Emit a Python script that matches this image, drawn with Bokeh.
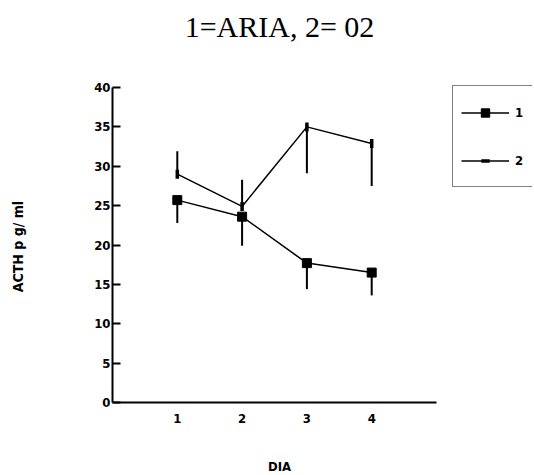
import numpy as np
from bokeh.plotting import figure
from bokeh.models import Legend, LegendItem, Range1d, FixedTicker, Label, ColumnDataSource
from bokeh.embed import file_html
from bokeh.resources import INLINE

# ---- data ----
days = [1, 2, 3, 4]
s1_mean = [25.7, 23.6, 17.7, 16.5]          # series 1 (ARIA)
s1_err_end = [22.8, 19.9, 14.4, 13.6]       # error bar far end, series 1
s2_mean = [29.0, 24.9, 35.0, 32.9]          # series 2 (O2)
s2_err_end = [31.9, 28.3, 29.1, 27.5]       # error bar far end, series 2
y_ticks = [0, 5, 10, 15, 20, 25, 30, 35, 40]
x_ticks = [1, 2, 3, 4]
title_text = "1=ARIA, 2= 02"
x_label = "DIA"
y_label = "ACTH p g/ ml"
series_labels = ["1", "2"]

src1 = ColumnDataSource(dict(x=days, y=s1_mean, e=s1_err_end))
src2 = ColumnDataSource(dict(x=days, y=s2_mean, e=s2_err_end,
                             ang=[np.pi / 2] * len(days)))

# the frame covers the whole canvas; the axes are pinned at 0 and bounded
W, H = 532, 474
X0, Y0 = 112, 402          # pixel position of the data origin
PX_X, PX_Y = 64.8, 7.875   # pixels per data unit
p = figure(frame_width=W, frame_height=H, output_backend="svg",
           toolbar_location=None,
           x_range=Range1d(-X0 / PX_X, (W - X0) / PX_X),
           y_range=Range1d(-(H - Y0) / PX_Y, Y0 / PX_Y),
           min_border=0)
p.title = None
p.outline_line_color = None
p.xgrid.visible = False
p.ygrid.visible = False
p.background_fill_color = "white"
p.border_fill_color = "white"

tick_font = "DejaVu Sans Condensed"
for ax in (p.xaxis[0], p.yaxis[0]):
    ax.fixed_location = 0
    ax.axis_line_width = 2
    ax.axis_line_color = "black"
    ax.major_label_text_font = tick_font
    ax.major_label_text_font_style = "bold"
    ax.major_label_text_font_size = "13px"
    ax.major_label_text_color = "black"
    ax.minor_tick_line_color = None

p.yaxis.bounds = (0, 40)
p.yaxis.ticker = FixedTicker(ticks=y_ticks)
p.yaxis.major_tick_in = 8
p.yaxis.major_tick_out = 0
p.yaxis.major_tick_line_width = 2
p.yaxis.major_label_standoff = 2

p.xaxis.bounds = (0, 5)
p.xaxis.ticker = FixedTicker(ticks=x_ticks)
p.xaxis.major_tick_in = 0
p.xaxis.major_tick_out = 0
p.xaxis.major_label_standoff = 11

label_font = dict(text_font=tick_font, text_font_style="bold", text_color="black",
                  text_align="center", text_baseline="middle")
p.add_layout(Label(x=2.577, y=-8.13, text=x_label, text_font_size="13px", **label_font))
p.add_layout(Label(x=-1.466, y=19.8, text=y_label, angle=np.pi / 2,
                   text_font_size="14px", **label_font))
p.add_layout(Label(x=2.577, y=47.75, text=title_text, text_align="center",
                   text_baseline="middle", text_font="Liberation Serif",
                   text_font_size="30px", text_color="black"))

# error bars
p.segment(x0="x", y0="y", x1="x", y1="e", source=src1, line_color="black", line_width=2)
p.segment(x0="x", y0="y", x1="x", y1="e", source=src2, line_color="black", line_width=2)

# lines + markers
l1 = p.line("x", "y", source=src1, line_color="black", line_width=1.5)
m1 = p.scatter("x", "y", source=src1, marker="square", size=9, fill_color="black", line_color="black")
l2 = p.line("x", "y", source=src2, line_color="black", line_width=1.5)
m2 = p.scatter("x", "y", source=src2, marker="dash", angle="ang", size=9,
               line_width=3.5, line_color="black")

legend = Legend(items=[LegendItem(label=series_labels[0], renderers=[l1, m1]),
                       LegendItem(label=series_labels[1], renderers=[l2, m2])],
                location=(452, 287), orientation="vertical",
                border_line_color="black", border_line_width=1.5,
                glyph_width=48, glyph_height=21, label_height=36,
                label_text_font=tick_font, label_text_font_style="bold",
                label_text_font_size="13px", label_text_color="black",
                label_standoff=6, spacing=12, padding=8, margin=0,
                background_fill_alpha=1)
p.add_layout(legend, "center")

open("out.html", "w").write(file_html(p, INLINE))
